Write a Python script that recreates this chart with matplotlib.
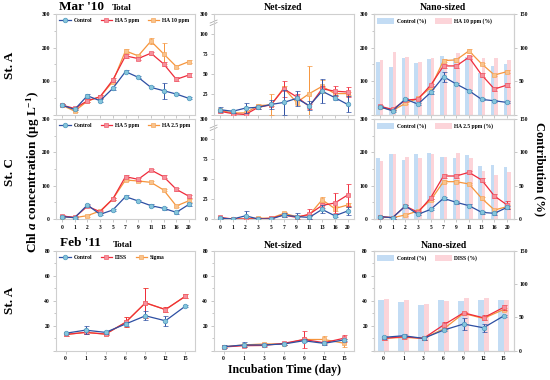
import matplotlib
matplotlib.use("Agg")
import matplotlib.pyplot as plt
from matplotlib.ticker import AutoMinorLocator, FixedLocator
from matplotlib.patches import Patch
from matplotlib.lines import Line2D
import numpy as np

plt.rcParams['font.family'] = ['Liberation Serif', 'DejaVu Serif']
plt.rcParams['font.weight'] = 'bold'
plt.rcParams['mathtext.fontset'] = 'custom'
plt.rcParams['mathtext.rm'] = 'Liberation Serif:bold'
plt.rcParams['mathtext.it'] = 'Liberation Serif:bold:italic'
plt.rcParams['mathtext.bf'] = 'Liberation Serif:bold'

# ---------------- data ----------------
days_mar = ['0', '1', '2', '3', '5', '7', '9', '11', '13', '16', '20']
days_feb = ['0', '1', '3', '6', '9', '12', '15']

# Row 1: St. A, Mar '10  (Control, HA 5 ppm, HA 10 ppm)
a_tot_ctrl = [28, 15, 56, 41, 78, 128, 111, 81, 71, 61, 48]
a_tot_ha5 = [28, 18, 41, 53, 103, 175, 167, 183, 151, 105, 118]
a_tot_ha10 = [28, 10, 40, 53, 98, 190, 175, 219, 181, 143, 158]
a_tot_ctrl_err = [4, 3, 6, 4, 4, 4, 3, 3, 24, 3, 3]
a_tot_ha5_err = [3, 3, 4, 4, 5, 6, 5, 5, 6, 6, 6]
a_tot_ha10_err = [3, 3, 3, 4, 4, 5, 4, 10, 31, 5, 4]

a_net_ctrl = [6, 4, 8, 9, 12.5, 15, 20, 11, 29, 21, 12.5]
a_net_ha5 = [4, 1, 0, 9, 12, 32, 22, 10, 32, 29, 28]
a_net_ha10 = [5, 2, 2, 11, 12, 33, 15, 26, 35, 26, 26]
a_net_ctrl_err = [3, 2, 6, 2, 6, 15, 9, 6, 15, 3, 10]
a_net_ha5_err = [2, 1, 2, 2, 2, 10, 3, 3, 4, 6, 6]
a_net_ha10_err = [1, 1, 1, 2, 13, 3, 3, 34, 8, 3, 2]

a_nano_ctrl = [23, 11, 46, 31, 66, 113, 91, 71, 45, 41, 36]
a_nano_ha5 = [25, 15, 43, 46, 88, 145, 145, 171, 118, 76, 88]
a_nano_ha10 = [23, 12, 33, 48, 81, 161, 163, 190, 151, 118, 128]
a_nano_ctrl_err = [3, 3, 3, 3, 4, 15, 3, 3, 3, 3, 3]
a_nano_ha5_err = [3, 3, 3, 3, 4, 5, 5, 5, 5, 5, 5]
a_nano_ha10_err = [3, 3, 3, 3, 4, 5, 5, 5, 4, 4, 4]
a_pct_ctrl = [79, 71, 85, 77, 83, 87, 84, 86, 62, 72, 75]
a_pct_ha10 = [82, 94, 86, 79, 85, 83, 92, 87, 85, 84, 82]

# Row 2: St. C, Mar '10  (Control, HA 5 ppm, HA 2.5 ppm)
c_tot_ctrl = [7, 4, 42, 14, 27, 67, 54, 40, 32, 20, 44]
c_tot_ha5 = [9, 5, 38, 22, 60, 127, 119, 147, 127, 89, 68]
c_tot_ha25 = [7, 4, 10, 24, 60, 117, 114, 110, 87, 39, 55]
c_tot_err = [3, 3, 3, 3, 3, 4, 4, 4, 4, 4, 4]

c_net_ctrl = [1, 0, 4, 0, 0, 5, 3, 2, 12, 4, 10]
c_net_ha5 = [2, 0, 0, 0, 1, 5, 2, 6, 17, 20, 30]
c_net_ha25 = [1, 0, 0, 1, 1, 7, 3, 5, 24, 13, 17.5]
c_net_ctrl_err = [1, 1, 6, 1, 1, 2, 4, 2, 5, 2, 5]
c_net_ha5_err = [1, 1, 1, 1, 1, 2, 2, 6, 3, 13, 14]
c_net_ha25_err = [1, 1, 1, 1, 2, 2, 1, 1, 3, 3, 3]

c_nano_ctrl = [7, 4, 39, 14, 29, 62, 50, 40, 20, 17, 35]
c_nano_ha5 = [7, 4, 39, 20, 64, 129, 129, 140, 117, 69, 42]
c_nano_ha25 = [7, 4, 12, 24, 57, 112, 112, 105, 62, 27, 37]
c_nano_err = [3, 3, 3, 3, 3, 4, 4, 4, 4, 4, 4]
c_nano_ha5_err = [3, 3, 3, 3, 4, 5, 5, 5, 5, 5, 12]
c_pct_ctrl = [92, 97, 88, 97, 99, 93, 92, 96, 80, 81, 78]
c_pct_ha25 = [87, 97, 93, 91, 97, 93, 99, 92, 72, 66, 71]

# Row 3: St. A, Feb '11  (Control, DISS, Sigma)
f_tot_ctrl = [14, 16.5, 14.7, 21.4, 28, 24, 35.8]
f_tot_diss = [13, 14.7, 13.3, 22.7, 38.4, 33, 43.7]
f_tot_sigma = [13, 14.7, 13.3, 22.7, 38.4, 33, 43.7]
f_tot_ctrl_err = [1, 3, 1, 1.5, 3.5, 4, 1]
f_tot_diss_err = [1, 1, 1, 4, 12, 2, 1.5]

f_net_ctrl = [3.2, 4.6, 4.6, 5.4, 8, 5.9, 8.6]
f_net_diss = [3, 4, 4.2, 5.9, 9, 6.4, 10]
f_net_sigma = [3.2, 4.6, 5.4, 5.4, 9, 9, 6]
f_net_ctrl_err = [1, 2, 1, 1, 1, 1, 1]
f_net_diss_err = [0.5, 1, 1, 1, 7, 1, 2.7]
f_net_sigma_err = [0.5, 1, 1, 1, 1, 3, 3]

f_nano_ctrl = [10.7, 12, 9.9, 16.5, 21.4, 18.4, 27.8]
f_nano_diss = [9.9, 11.2, 9.9, 20.6, 30.4, 26.4, 34.7]
f_nano_sigma = [9.9, 10.7, 9.9, 17.4, 29.9, 25.9, 33]
f_nano_ctrl_err = [1, 1, 1, 1, 4.6, 3, 1]
f_nano_diss_err = [1, 1, 1, 2.5, 1, 2, 2]
f_nano_sigma_err = [1, 1, 1, 1, 1, 1, 1]
f_pct_ctrl = [77, 73.5, 68.5, 76, 74.5, 77, 77]
f_pct_diss = [78.5, 76, 70, 75, 80, 79.5, 76]

# ---------------- styles ----------------
BLUE = dict(color='#2d4fa3', mfc='#86c5dc', mec='#4d97bd', marker='o')
RED = dict(color='#ef2b3b', mfc='#f5909c', mec='#f0606e', marker='s')
ORANGE = dict(color='#f6953c', mfc='#f9c38c', mec='#f5a860', marker='s')
BAR_BLUE = '#c3dcf4'
BAR_PINK = '#fcd4d9'
SPINE = '#cfcfcf'

W, H = 550, 380
fig = plt.figure(figsize=(5.5, 3.8), dpi=100)

cols = [(55.6, 195.4), (213.6, 354.0), (373.5, 513.5)]
rows = [(14, 114.5), (119, 219), (251, 350.7)]


def make_ax(r, c):
    x0, x1 = cols[c]
    t, b = rows[r]
    ax = fig.add_axes([x0 / W, 1 - b / H, (x1 - x0) / W, (b - t) / H])
    for s in ax.spines.values():
        s.set_color(SPINE)
        s.set_linewidth(0.8)
    ax.tick_params(which='both', direction='out', color='#b0b0b0', labelsize=4,
                   pad=2, width=0.5)
    ax.tick_params(which='major', length=2)
    ax.tick_params(which='minor', length=1.3)
    return ax


def draw_line(ax, x, y, e, st, label, z=3):
    ax.errorbar(x, y, yerr=e, color=st['color'], lw=0.9, marker=st['marker'],
                ms=3.3, mfc=st['mfc'], mec=st['mec'], mew=0.5, capsize=1.8,
                elinewidth=0.7, capthick=0.7, ecolor=st['color'], label=label,
                zorder=z)


def line_legend(ax, labels, styles):
    handles = [Line2D([0], [0], color=s['color'], lw=0.9, marker=s['marker'], ms=3.3,
                      mfc=s['mfc'], mec=s['mec'], mew=0.5) for s in styles]
    ax.legend(handles, labels, loc='upper left', ncol=3, fontsize=4, frameon=False,
              handlelength=2.0, columnspacing=1.6, handletextpad=0.5,
              borderaxespad=0.4, borderpad=0.3)


def bar_legend(ax, labels):
    handles = [Patch(facecolor=BAR_BLUE), Patch(facecolor=BAR_PINK)]
    ax.legend(handles, labels, loc='upper left', ncol=2, fontsize=4, frameon=False,
              handlelength=3.0, handleheight=1.4, columnspacing=1.6,
              handletextpad=0.5, borderaxespad=0.4, borderpad=0.3)


def break_marks(ax, yfrac):
    for dy in (0.0, 0.025):
        ax.plot([-0.025, 0.025], [yfrac - 0.015 + dy, yfrac + 0.015 + dy],
                transform=ax.transAxes, clip_on=False, color='#a0a0a0', lw=0.5)


row_specs = [
    dict(cats=days_mar,
         tot=(a_tot_ctrl, a_tot_ha5, a_tot_ha10, a_tot_ctrl_err, a_tot_ha5_err, a_tot_ha10_err),
         net=(a_net_ctrl, a_net_ha5, a_net_ha10, a_net_ctrl_err, a_net_ha5_err, a_net_ha10_err),
         nano=(a_nano_ctrl, a_nano_ha5, a_nano_ha10, a_nano_ctrl_err, a_nano_ha5_err, a_nano_ha10_err),
         pct=(a_pct_ctrl, a_pct_ha10),
         labels=['Control', 'HA 5 ppm', 'HA 10 ppm'],
         bar_labels=['Control (%)', 'HA 10 ppm (%)'],
         ymax=300, xlabels=False, show0=False),
    dict(cats=days_mar,
         tot=(c_tot_ctrl, c_tot_ha5, c_tot_ha25, c_tot_err, c_tot_err, c_tot_err),
         net=(c_net_ctrl, c_net_ha5, c_net_ha25, c_net_ctrl_err, c_net_ha5_err, c_net_ha25_err),
         nano=(c_nano_ctrl, c_nano_ha5, c_nano_ha25, c_nano_err, c_nano_ha5_err, c_nano_err),
         pct=(c_pct_ctrl, c_pct_ha25),
         labels=['Control', 'HA 5 ppm', 'HA 2.5 ppm'],
         bar_labels=['Control (%)', 'HA 2.5 ppm (%)'],
         ymax=300, xlabels=True, show0=True),
    dict(cats=days_feb,
         tot=(f_tot_ctrl, f_tot_diss, f_tot_sigma, f_tot_ctrl_err, f_tot_diss_err, f_tot_diss_err),
         net=(f_net_ctrl, f_net_diss, f_net_sigma, f_net_ctrl_err, f_net_diss_err, f_net_sigma_err),
         nano=(f_nano_ctrl, f_nano_diss, f_nano_sigma, f_nano_ctrl_err, f_nano_diss_err, f_nano_sigma_err),
         pct=(f_pct_ctrl, f_pct_diss),
         labels=['Control', 'DISS', 'Sigma'],
         bar_labels=['Control (%)', 'DISS (%)'],
         ymax=80, xlabels=True, show0=False),
]

for r, spec in enumerate(row_specs):
    cats = spec['cats']
    x = np.arange(len(cats))
    xlim = (-0.5, len(cats) - 0.5)
    for c in range(3):
        ax = make_ax(r, c)
        ax.set_xlim(*xlim)
        ax.set_xticks(x)
        if spec['xlabels']:
            ax.set_xticklabels(cats)
        else:
            ax.set_xticklabels([])
        key = ['tot', 'net', 'nano'][c]
        y1, y2, y3, e1, e2, e3 = spec[key]
        if c == 2:
            ax2 = ax.twinx()
            for s in ax2.spines.values():
                s.set_color(SPINE)
                s.set_linewidth(0.8)
            ax2.tick_params(direction='out', color='#b0b0b0', labelsize=4, pad=2,
                            width=0.5, length=2)
            p1, p2 = spec['pct']
            ax2.bar(x - 0.14, p1, width=0.28, color=BAR_BLUE, zorder=1)
            ax2.bar(x + 0.14, p2, width=0.28, color=BAR_PINK, zorder=1)
            ax2.set_ylim(0, 150)
            ax2.set_yticks([0, 50, 100, 150])
            if r == 0:
                ax2.set_yticklabels(['', '50', '100', '150'])
            ax.set_zorder(ax2.get_zorder() + 1)
            ax.patch.set_visible(False)
        # draw lines (sigma under DISS in total panel)
        draw_line(ax, x, y3, e3, ORANGE, spec['labels'][2], z=3)
        draw_line(ax, x, y2, e2, RED, spec['labels'][1], z=4)
        draw_line(ax, x, y1, e1, BLUE, spec['labels'][0], z=5)

        ymax = spec['ymax']
        if c == 1 and r < 2:
            ax.set_ylim(0, 125)
            ticks = [0, 25, 50, 75, 100, 125]
            labs = ['0' if spec['show0'] else '', '25', '50', '75', '100', '300']
            ax.set_yticks(ticks)
            ax.set_yticklabels(labs)
            break_marks(ax, 0.9)
        else:
            ax.set_ylim(0, ymax)
            if ymax == 300:
                ticks = [0, 100, 200, 300]
            else:
                ticks = [0, 20, 40, 60, 80]
            ax.set_yticks(ticks)
            labs = [str(t) for t in ticks]
            if not spec['show0']:
                labs[0] = ''
            ax.set_yticklabels(labs)
            ax.yaxis.set_minor_locator(AutoMinorLocator(2))
        if c == 0:
            line_legend(ax, spec['labels'], [BLUE, RED, ORANGE])
        if c == 2:
            bar_legend(ax, spec['bar_labels'])

# ---------------- texts ----------------
def ftext(px, py, s, **kw):
    fig.text(px / W, 1 - py / H, s, **kw)

ftext(59, 7, "Mar '10", fontsize=9.5, ha='left', va='center')
ftext(112, 8, "Total", fontsize=6.5, ha='left', va='center')
ftext(283, 7, "Net-sized", fontsize=7, ha='center', va='center')
ftext(443, 7, "Nano-sized", fontsize=7, ha='center', va='center')

ftext(60, 243, "Feb '11", fontsize=9.5, ha='left', va='center')
ftext(113, 245, "Total", fontsize=6.5, ha='left', va='center')
ftext(283, 245, "Net-sized", fontsize=7, ha='center', va='center')
ftext(444, 245, "Nano-sized", fontsize=7, ha='center', va='center')

ftext(10, 65, "St. A", fontsize=9.5, rotation=90, ha='center', va='center')
ftext(10, 172, "St. C", fontsize=9.5, rotation=90, ha='center', va='center')
ftext(10, 300, "St. A", fontsize=9.5, rotation=90, ha='center', va='center')
ftext(33, 172, r"Chl $\mathit{a}$ concentration (μg L$^{-1}$)", fontsize=9.5,
      rotation=90, ha='center', va='center')
ftext(540, 169, "Contribution (%)", fontsize=9, rotation=270, ha='center', va='center')
ftext(285, 370, "Incubation Time (day)", fontsize=8.5, ha='center', va='center')

fig.savefig("out.png", dpi=100)
